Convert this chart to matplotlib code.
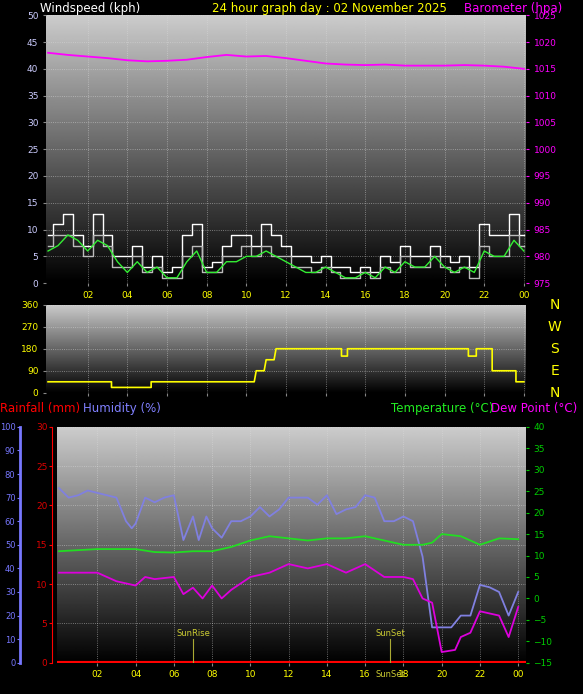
import numpy as np
import matplotlib
matplotlib.use("Agg")
import matplotlib.pyplot as plt

# ---- data ----
hours_half = [i * 0.5 for i in range(49)]
gust = [9, 11, 13, 9, 7, 13, 9, 5, 5, 7, 3, 5, 2, 3, 9, 11, 3, 4, 7, 9, 9, 7, 11, 9, 7,
        5, 5, 4, 5, 3, 3, 2, 3, 2, 5, 4, 7, 5, 5, 7, 5, 4, 5, 3, 11, 9, 9, 13, 9]
speed = [7, 9, 9, 7, 5, 9, 7, 3, 3, 5, 2, 3, 1, 1, 5, 7, 2, 2, 5, 5, 7, 5, 7, 5, 5,
         3, 3, 2, 3, 2, 1, 1, 2, 1, 3, 2, 5, 3, 3, 5, 3, 2, 3, 1, 7, 5, 5, 9, 7]
speed_avg = [6, 7, 9, 8, 6, 8, 7, 4, 2, 4, 2, 3, 1, 1, 4, 6, 2, 2, 4, 4, 5, 5, 6, 5, 4,
             3, 2, 2, 3, 2, 1, 1, 2, 1, 3, 2, 4, 3, 3, 5, 3, 2, 3, 2, 6, 5, 5, 8, 6]

baro_h = [0, 1, 2, 3, 4, 5, 6, 7, 8, 9, 10, 11, 12, 13, 14, 15, 16, 17, 18, 19, 20, 21, 22, 23, 24]
baro = [1018.0, 1017.6, 1017.3, 1017.0, 1016.6, 1016.4, 1016.5, 1016.7, 1017.2, 1017.6, 1017.3,
        1017.4, 1017.0, 1016.5, 1016.0, 1015.8, 1015.7, 1015.8, 1015.6, 1015.6, 1015.6, 1015.7,
        1015.6, 1015.4, 1015.0]

dir_h = [0, 3.2, 3.2, 5.2, 5.2, 10.4, 10.5, 10.9, 11.0, 11.4, 11.5, 14.8, 14.8, 15.1, 15.1,
         21.2, 21.2, 21.6, 21.6, 22.4, 22.4, 23.6, 23.6, 24]
wind_dir = [45, 45, 22, 22, 45, 45, 90, 90, 135, 135, 180, 180, 150, 150, 180,
            180, 150, 150, 180, 180, 90, 90, 45, 45]

hum_h = [0, 0.5, 1, 1.5, 2, 2.5, 3, 3.5, 3.8, 4, 4.5, 5, 5.5, 6, 6.5, 7, 7.3, 7.7, 8, 8.5, 9,
         9.5, 10, 10.5, 11, 11.5, 12, 12.5, 13, 13.5, 14, 14.5, 15, 15.5, 16, 16.5, 17, 17.5,
         18, 18.5, 19, 19.5, 20, 20.5, 21, 21.5, 22, 22.5, 23, 23.5, 24]
humidity = [74, 70, 71, 73, 72, 71, 70, 60, 57, 59, 70, 68, 70, 71, 52, 62, 52, 62, 57, 53, 60,
            60, 62, 66, 62, 65, 70, 70, 70, 67, 71, 63, 65, 66, 71, 70, 60, 60, 62, 60, 45, 15,
            15, 15, 20, 20, 33, 32, 30, 20, 30]

temp_h = [0, 2, 4, 5, 6, 7, 8, 9, 10, 11, 12, 13, 14, 15, 16, 17, 18, 19, 19.5, 20, 21, 22, 23, 24]
temperature = [11, 11.5, 11.5, 10.8, 10.7, 11, 11, 12, 13.5, 14.5, 14, 13.5, 14, 14, 14.5, 13.5,
               12.5, 12.5, 13, 15, 14.5, 12.5, 14, 13.8]

dew_h = [0, 2, 3, 4, 4.5, 5, 6, 6.5, 7, 7.5, 8, 8.5, 9, 10, 11, 12, 13, 14, 15, 16, 17, 18, 18.5,
         19, 19.5, 20, 20.7, 21, 21.5, 22, 23, 23.5, 24]
dew_point = [6, 6, 4, 3, 5, 4.5, 5, 1, 2.5, 0, 3, 0, 2, 5, 6, 8, 7, 8, 6, 8, 5, 5, 4.5, 0, -1,
             -12.5, -12, -9, -8, -3, -4, -9, -2]

tick_pos = [2, 4, 6, 8, 10, 12, 14, 16, 18, 20, 22, 24]
tick_lab = ["02", "04", "06", "08", "10", "12", "14", "16", "18", "20", "22", "00"]

YEL = "#ffff00"
MAG = "#ff00ff"
grad = np.linspace(0.80, 0.0, 256).reshape(-1, 1)


def style(ax, xlim):
    ax.set_facecolor("black")
    ax.imshow(grad, cmap="gray", vmin=0, vmax=1, aspect="auto", extent=[0, 1, 0, 1],
              transform=ax.transAxes, zorder=0)
    ax.set_xlim(*xlim)
    ax.set_xticks(tick_pos)
    ax.set_xticklabels(tick_lab, color=YEL, fontsize=6.5)
    ax.grid(color="#dddddd", ls=":", lw=0.6, alpha=0.6)
    for s in ax.spines.values():
        s.set_visible(False)
    ax.tick_params(length=2, colors="#888888", labelsize=6.5)


fig = plt.figure(figsize=(5.83, 6.94), dpi=100, facecolor="black")

# ---- top: wind + baro ----
ax1 = fig.add_axes([0.079, 0.592, 0.823, 0.386])
style(ax1, (-0.1, 24.1))
ax1.set_ylim(0, 50)
ax1.set_yticks(range(0, 51, 5))
ax1.tick_params(axis="y", labelcolor="#ccccff")
ax1.tick_params(axis="x", labelcolor=YEL)
ax1.step(hours_half, gust, where="mid", color="white", lw=1.0, zorder=3)
ax1.step(hours_half, speed, where="mid", color="#bbbbbb", lw=1.0, zorder=3)
ax1.plot(hours_half, speed_avg, color="#33ee33", lw=1.0, zorder=4)
ax1b = ax1.twinx()
ax1b.set_ylim(975, 1025)
ax1b.set_yticks(range(975, 1026, 5))
ax1b.tick_params(colors=MAG, labelsize=6.5, length=2)
for s in ax1b.spines.values():
    s.set_visible(False)
ax1b.plot(baro_h, baro, color=MAG, lw=1.3)
fig.text(0.068, 0.988, "Windspeed (kph)", color="white", fontsize=8.5, va="center")
fig.text(0.565, 0.988, "24 hour graph day : 02 November 2025", color=YEL, fontsize=8.5,
         va="center", ha="center")
fig.text(0.965, 0.988, "Barometer (hpa)", color=MAG, fontsize=8.5, va="center", ha="right")

# ---- middle: wind direction ----
ax2 = fig.add_axes([0.079, 0.434, 0.823, 0.127])
style(ax2, (-0.1, 24.1))
ax2.set_ylim(0, 360)
ax2.set_yticks([0, 90, 180, 270, 360])
ax2.set_xticklabels([])
ax2.tick_params(axis="y", labelcolor=YEL)
ax2.plot(dir_h, wind_dir, color=YEL, lw=1.2)
for lab, d in zip(["N", "W", "S", "E", "N"], [360, 270, 180, 90, 0]):
    ax2.text(1.06, d / 360, lab, color=YEL, fontsize=10, transform=ax2.transAxes,
             ha="center", va="center")

# ---- bottom: temp / dew / humidity / rain ----
ax3 = fig.add_axes([0.098, 0.045, 0.804, 0.340])
style(ax3, (-0.1, 24.4))
ax3.set_ylim(0, 30)
ax3.set_yticks(range(0, 31, 5))
ax3.spines["left"].set_visible(True)
ax3.spines["left"].set_color("red")
ax3.spines["left"].set_position(("outward", 4))
ax3.tick_params(axis="y", colors="red", labelcolor="#dd0000", pad=1)
ax3.tick_params(axis="x", labelcolor=YEL)
ax3.axhline(0, color="red", lw=3, zorder=5)

axh = ax3.twinx()
axh.yaxis.set_ticks_position("left")
axh.yaxis.set_label_position("left")
axh.spines["left"].set_visible(True)
axh.spines["left"].set_position(("outward", 27))
axh.spines["left"].set_color("#7777ff")
axh.spines["left"].set_linewidth(2)
for k in ("right", "top", "bottom"):
    axh.spines[k].set_visible(False)
axh.set_ylim(0, 100)
axh.set_yticks(range(0, 101, 10))
axh.tick_params(colors="#7777ff", labelsize=6, length=2, pad=1)
axh.plot(hum_h, humidity, color="#8080e0", lw=1.3)

axt = ax3.twinx()
for s in axt.spines.values():
    s.set_visible(False)
axt.set_ylim(-15, 40)
axt.set_yticks(range(-15, 41, 5))
axt.tick_params(colors="#00cc00", labelsize=6.5, length=2)
axt.plot(temp_h, temperature, color="#22dd22", lw=1.3)
axt.plot(dew_h, dew_point, color="#dd00dd", lw=1.3)

for h, name in [(7.0, "SunRise"), (17.3, "SunSet")]:
    axt.plot([h, h], [-15, -9.5], color="#aaaa33", lw=0.8)
    axt.text(h, -8.8, name, color="#cccc33", fontsize=6, ha="center")
axt.text(17.3, -18.3, "SunSet", color="#cccc33", fontsize=6, ha="center", clip_on=False)

fig.text(0.0, 0.412, "Rainfall (mm)", color="red", fontsize=8.5, va="center")
fig.text(0.143, 0.412, "Humidity (%)", color="#8080ff", fontsize=8.5, va="center")
fig.text(0.67, 0.412, "Temperature (°C)", color="#22ee22", fontsize=8.5, va="center")
fig.text(0.99, 0.412, "Dew Point (°C)", color=MAG, fontsize=8.5, va="center", ha="right")

fig.savefig("out.png", dpi=100, facecolor="black")
